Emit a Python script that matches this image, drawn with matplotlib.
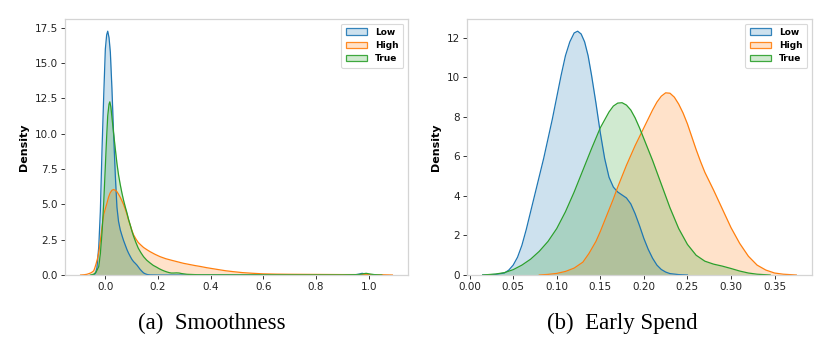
import matplotlib
matplotlib.use("Agg")
import matplotlib.pyplot as plt
import matplotlib.colors as mcolors
from matplotlib.patches import Patch

# ---------------- data ----------------
series_names = ["Low", "High", "True"]
colors = ["#1f77b4", "#ff7f0e", "#2ca02c"]

# (a) Smoothness
smooth_low_x = [-0.045, -0.038, -0.032, -0.025, -0.019, -0.0126, -0.006, 0.0, 0.005, 0.009,
                0.014, 0.019, 0.025, 0.031, 0.038, 0.044, 0.05, 0.0566, 0.063, 0.069, 0.076,
                0.082, 0.088, 0.095, 0.101, 0.107, 0.114, 0.12, 0.126, 0.132, 0.139, 0.145,
                0.152, 0.16, 0.17, 0.2, 0.5, 0.9, 0.95, 0.965, 0.975, 0.985, 1.0, 1.03]
smooth_low_y = [0.0, 0.1, 0.5, 2.0, 4.5, 8.9, 12.8, 16.0, 17.0, 17.26,
                16.8, 15.77, 13.2, 10.1, 7.0, 4.8, 3.8, 3.2, 2.8, 2.45, 2.1,
                1.8, 1.55, 1.3, 1.1, 0.95, 0.82, 0.7, 0.55, 0.4, 0.26, 0.15,
                0.08, 0.03, 0.01, 0.0, 0.0, 0.0, 0.02, 0.07, 0.12, 0.07, 0.02, 0.0]

smooth_high_x = [-0.094, -0.08, -0.07, -0.062, -0.055, -0.049, -0.044, -0.04, -0.035, -0.03,
                 -0.025, -0.019, -0.0126, -0.006, 0.0063, 0.012, 0.018, 0.025, 0.031, 0.038,
                 0.044, 0.05, 0.0566, 0.063, 0.069, 0.076, 0.082, 0.088, 0.095, 0.101, 0.107,
                 0.116, 0.125, 0.135, 0.145, 0.157, 0.17, 0.188, 0.2075, 0.23, 0.25, 0.273,
                 0.296, 0.318, 0.34, 0.362, 0.384, 0.407, 0.43, 0.457, 0.484, 0.52, 0.56,
                 0.6, 0.65, 0.7, 0.8, 0.9, 1.0, 1.05, 1.09]
smooth_high_y = [0.0, 0.02, 0.05, 0.1, 0.15, 0.22, 0.3, 0.5, 0.8, 1.15,
                 1.6, 2.4, 3.4, 4.3, 5.1, 5.5, 5.8, 6.0, 6.05, 6.0,
                 5.9, 5.72, 5.5, 5.25, 5.0, 4.65, 4.3, 3.9, 3.5, 3.15, 2.85,
                 2.55, 2.3, 2.12, 1.95, 1.8, 1.65, 1.47, 1.3, 1.15, 1.05, 0.94,
                 0.83, 0.75, 0.67, 0.6, 0.52, 0.45, 0.38, 0.3, 0.24, 0.17, 0.12,
                 0.08, 0.06, 0.05, 0.04, 0.03, 0.03, 0.02, 0.0]

smooth_true_x = [-0.057, -0.045, -0.035, -0.025, -0.019, -0.0126, -0.006, 0.0, 0.005, 0.009,
                 0.014, 0.017, 0.021, 0.026, 0.031, 0.038, 0.044, 0.05, 0.0566, 0.063, 0.069,
                 0.076, 0.082, 0.088, 0.095, 0.101, 0.107, 0.116, 0.125, 0.135, 0.145, 0.157,
                 0.17, 0.182, 0.195, 0.205, 0.215, 0.224, 0.233, 0.242, 0.25, 0.26, 0.27,
                 0.28, 0.29, 0.31, 0.35, 0.5, 0.9, 0.96, 0.975, 0.99, 1.005, 1.02, 1.05]
smooth_true_y = [0.0, 0.05, 0.2, 0.6, 1.5, 3.0, 5.2, 7.7, 9.8, 11.26,
                 12.1, 12.26, 11.9, 11.0, 10.1, 8.9, 7.9, 7.1, 6.4, 5.8, 5.3,
                 4.8, 4.4, 3.95, 3.5, 3.1, 2.75, 2.3, 1.9, 1.58, 1.3, 1.05,
                 0.85, 0.68, 0.55, 0.44, 0.35, 0.28, 0.22, 0.17, 0.14, 0.14, 0.15,
                 0.14, 0.1, 0.05, 0.02, 0.01, 0.01, 0.03, 0.07, 0.12, 0.07, 0.03, 0.0]

# (b) Early Spend
spend_low_x = [0.015, 0.03, 0.04, 0.045, 0.05, 0.055, 0.06, 0.065, 0.07, 0.075,
               0.08, 0.085, 0.09, 0.095, 0.10, 0.105, 0.11, 0.115, 0.12, 0.124,
               0.128, 0.132, 0.136, 0.14, 0.145, 0.15, 0.155, 0.16, 0.165, 0.17,
               0.175, 0.18, 0.185, 0.19, 0.195, 0.2, 0.205, 0.21, 0.215, 0.22,
               0.225, 0.23, 0.24, 0.25]
spend_low_y = [0.0, 0.03, 0.1, 0.25, 0.5, 0.9, 1.5, 2.3, 3.2, 4.1,
               5.0, 5.9, 6.9, 7.9, 9.0, 10.1, 11.1, 11.8, 12.25, 12.34,
               12.2, 11.8, 11.1, 10.1, 8.7, 7.2, 5.9, 4.95, 4.45, 4.2,
               4.05, 3.9, 3.6, 3.1, 2.5, 1.85, 1.3, 0.85, 0.5, 0.28,
               0.15, 0.07, 0.02, 0.0]

spend_high_x = [0.08, 0.09, 0.1, 0.11, 0.12, 0.13, 0.137, 0.145, 0.15, 0.155,
                0.16, 0.165, 0.17, 0.175, 0.18, 0.185, 0.19, 0.195, 0.2, 0.205,
                0.21, 0.215, 0.22, 0.225, 0.23, 0.235, 0.24, 0.245, 0.25, 0.255,
                0.26, 0.265, 0.27, 0.275, 0.28, 0.29, 0.30, 0.31, 0.32, 0.33,
                0.34, 0.35, 0.36, 0.375]
spend_high_y = [0.0, 0.03, 0.08, 0.18, 0.35, 0.65, 1.09, 1.7, 2.2, 2.75,
                3.3, 3.85, 4.45, 5.0, 5.55, 6.05, 6.55, 7.0, 7.45, 7.9,
                8.35, 8.75, 9.05, 9.22, 9.2, 9.0, 8.65, 8.2, 7.65, 7.0,
                6.35, 5.75, 5.2, 4.75, 4.3, 3.35, 2.4, 1.6, 0.95, 0.5,
                0.25, 0.1, 0.04, 0.0]

spend_true_x = [0.015, 0.03, 0.04, 0.05, 0.06, 0.07, 0.08, 0.09, 0.10, 0.11,
                0.12, 0.13, 0.14, 0.15, 0.16, 0.165, 0.17, 0.175, 0.18, 0.185,
                0.19, 0.195, 0.20, 0.21, 0.22, 0.23, 0.24, 0.25, 0.26, 0.27,
                0.28, 0.29, 0.30, 0.31, 0.32, 0.33, 0.345]
spend_true_y = [0.0, 0.05, 0.12, 0.27, 0.5, 0.8, 1.2, 1.7, 2.35, 3.2,
                4.2, 5.3, 6.4, 7.45, 8.25, 8.55, 8.7, 8.72, 8.6, 8.35,
                7.95, 7.45, 6.9, 5.8, 4.6, 3.4, 2.35, 1.55, 1.0, 0.7,
                0.55, 0.45, 0.33, 0.2, 0.1, 0.04, 0.0]

panels = [
    ("(a)  Smoothness",
     [(smooth_low_x, smooth_low_y), (smooth_high_x, smooth_high_y), (smooth_true_x, smooth_true_y)],
     [0.0, 0.2, 0.4, 0.6, 0.8, 1.0], [0.0, 2.5, 5.0, 7.5, 10.0, 12.5, 15.0, 17.5],
     ["0.0", "0.2", "0.4", "0.6", "0.8", "1.0"],
     ["0.0", "2.5", "5.0", "7.5", "10.0", "12.5", "15.0", "17.5"]),
    ("(b)  Early Spend",
     [(spend_low_x, spend_low_y), (spend_high_x, spend_high_y), (spend_true_x, spend_true_y)],
     [0.0, 0.05, 0.10, 0.15, 0.20, 0.25, 0.30, 0.35], [0, 2, 4, 6, 8, 10, 12],
     ["0.00", "0.05", "0.10", "0.15", "0.20", "0.25", "0.30", "0.35"],
     ["0", "2", "4", "6", "8", "10", "12"]),
]

# ---------------- figure ----------------
W, H = 826, 352
fig = plt.figure(figsize=(W / 100, H / 100), dpi=100)
boxes = [(65, 19, 408, 275), (467, 19, 812, 275)]
caption_x = [212, 622]

for (title, curves, xt, yt, xtl, ytl), (x0, y0, x1, y1), cx in zip(panels, boxes, caption_x):
    ax = fig.add_axes([x0 / W, 1 - y1 / H, (x1 - x0) / W, (y1 - y0) / H])
    for (xs, ys), c in zip(curves, colors):
        ax.fill_between(xs, ys, 0, color=c, alpha=0.22, linewidth=0)
        ax.plot(xs, ys, color=c, linewidth=0.9, solid_joinstyle="round")
    ax.margins(x=0.05, y=0.05)
    ax.set_ylim(bottom=0)
    ax.set_xticks(xt)
    ax.set_xticklabels(xtl)
    ax.set_yticks(yt)
    ax.set_yticklabels(ytl)
    ax.tick_params(labelsize=7.5, length=3, width=0.7, color="#333333", labelcolor="#222222", pad=2)
    for s in ax.spines.values():
        s.set_color("#d4d4d4")
        s.set_linewidth(0.9)
    ax.set_ylabel("Density", fontsize=8, fontweight="bold")
    handles = []
    for c in colors:
        r, g, b, _ = mcolors.to_rgba(c)
        handles.append(Patch(facecolor=(r, g, b, 0.22), edgecolor=(r, g, b, 0.9), linewidth=0.9))
    leg = ax.legend(handles, series_names, loc="upper right",
                    prop={"size": 6.5, "weight": "bold"},
                    handlelength=2.4, handleheight=0.8, borderpad=0.5,
                    labelspacing=0.45, handletextpad=0.9, fancybox=True)
    leg.get_frame().set_edgecolor("#d0d0d0")
    leg.get_frame().set_linewidth(0.8)
    fig.text(cx / W, 1 - 323 / H, title, ha="center", va="center",
             fontsize=16.5, family="Liberation Serif")

fig.savefig("out.png", dpi=100)
